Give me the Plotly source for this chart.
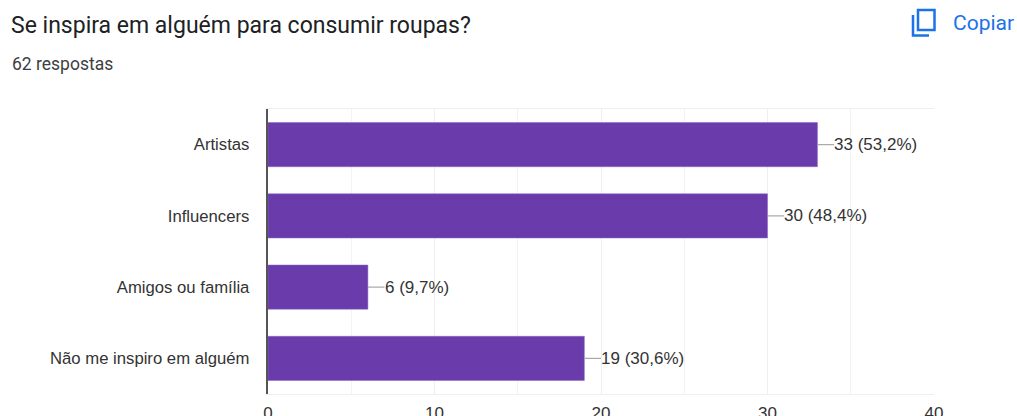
import plotly.graph_objects as go

categories = ["Artistas", "Influencers", "Amigos ou família", "Não me inspiro em alguém"]
values = [33, 30, 6, 19]
value_labels = ["33 (53,2%)", "30 (48,4%)", "6 (9,7%)", "19 (30,6%)"]
leader_lengths = [1, 1, 1, 1]
x_ticks = [0, 10, 20, 30, 40]

W, H = 1017, 416
L, R, T, B = 268, 83, 109, 22
TXT = "#333333"
SANS = "Liberation Sans, Arial, sans-serif"
ROBOTO = "Roboto, sans-serif"
BLUE = "#1a73e8"

fig = go.Figure(go.Bar(
    y=categories, x=values, orientation="h", width=0.62,
    marker=dict(color="#6a3bab", line=dict(color="#8a66c4", width=0.5)),
    error_x=dict(type="data", symmetric=False, array=leader_lengths, arrayminus=[0] * 4,
                 color="#a8a8a8", thickness=1.2, width=0),
    hoverinfo="skip",
))

annotations = [
    dict(x=v + l, y=c, xref="x", yref="y", text=t, showarrow=False, xanchor="left",
         yanchor="middle", borderpad=0, xshift=-1, font=dict(family=SANS, size=17, color=TXT))
    for c, v, l, t in zip(categories, values, leader_lengths, value_labels)
]
px = lambda x: (x - L) / (W - L - R)
py = lambda y: (H - B - y) / (H - T - B)
annotations += [
    dict(x=px(10), y=py(25.5), xref="paper", yref="paper", text="Se inspira em alguém para consumir roupas?",
         showarrow=False, xanchor="left", yanchor="middle", borderpad=0,
         font=dict(family=ROBOTO, size=23, color="#202124")),
    dict(x=px(10.5), y=py(64), xref="paper", yref="paper", text="62 respostas",
         showarrow=False, xanchor="left", yanchor="middle", borderpad=0,
         font=dict(family=ROBOTO, size=17.5, color="#3c4043")),
    dict(x=px(952), y=py(23), xref="paper", yref="paper", text="Copiar",
         showarrow=False, xanchor="left", yanchor="middle", borderpad=0,
         font=dict(family=ROBOTO, size=21, color=BLUE)),
]

shapes = [
    dict(type="rect", xref="paper", yref="paper", x0=px(918), x1=px(934.5), y0=py(10), y1=py(30),
         line=dict(color=BLUE, width=2.5), fillcolor="rgba(0,0,0,0)"),
    dict(type="path", xref="paper", yref="paper",
         path=f"M {px(913)} {py(15)} L {px(913)} {py(35.5)} L {px(929)} {py(35.5)}",
         line=dict(color=BLUE, width=2.5)),
]

fig.update_layout(
    width=W, height=H, autosize=False, margin=dict(l=L, r=R, t=T, b=B, pad=0),
    paper_bgcolor="white", plot_bgcolor="white", showlegend=False,
    annotations=annotations, shapes=shapes,
    font=dict(family=SANS, size=17, color=TXT),
    xaxis=dict(range=[0, 40], tickvals=x_ticks, showgrid=True, gridcolor="#efefef", gridwidth=1,
               minor=dict(dtick=5, showgrid=True, gridcolor="#f3f3f3", gridwidth=1),
               zeroline=False, showline=True, mirror=True, linecolor="#efefef", linewidth=1,
               automargin=False,
               ticks="outside", ticklen=4, tickcolor="rgba(0,0,0,0)", tickfont=dict(size=17, color=TXT)),
    yaxis=dict(autorange="reversed", showgrid=False, zeroline=False, showline=True, linecolor="#555555",
               automargin=False,
               linewidth=1.5, ticks="outside", ticklen=13.5, tickcolor="rgba(0,0,0,0)",
               tickfont=dict(size=16.7, color=TXT)),
)

fig.write_html("out.html", config=dict(displayModeBar=False),
               post_script="document.body.style.margin='0';document.body.style.overflow='hidden';")
